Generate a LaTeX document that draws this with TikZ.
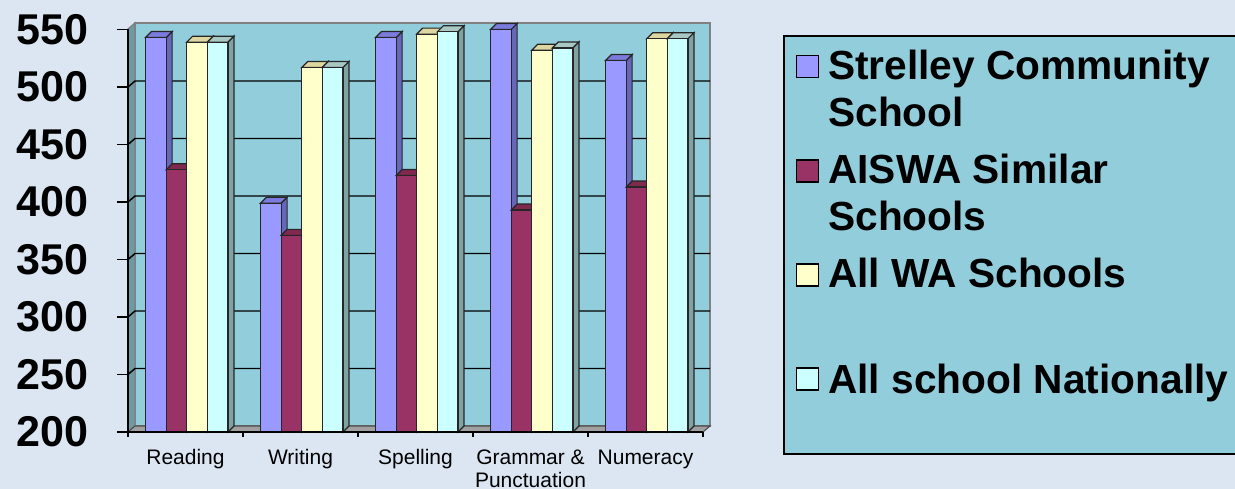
\documentclass[tikz,border=0pt]{standalone}
\usepackage{fontspec}
\setmainfont{Liberation Sans}
\definecolor{bg}{HTML}{DCE6F2}
\definecolor{wall}{HTML}{92CDDC}
\definecolor{sidewall}{HTML}{6E9AA4}
\definecolor{floorc}{HTML}{A0A0A0}
\definecolor{bluef}{HTML}{9999FF}
\definecolor{blues}{HTML}{6666BB}
\definecolor{bluet}{HTML}{7B7BDD}
\definecolor{marf}{HTML}{993366}
\definecolor{mars}{HTML}{6B2447}
\definecolor{mart}{HTML}{80294F}
\definecolor{yelf}{HTML}{FFFFCC}
\definecolor{yels}{HTML}{B8B890}
\definecolor{yelt}{HTML}{DDD6A0}
\definecolor{cyaf}{HTML}{CCFFFF}
\definecolor{cyas}{HTML}{7FA3A3}
\definecolor{cyat}{HTML}{A8C8C4}
\tikzset{
  barline/.style={draw=black!85, line width=0.9pt},
  gridl/.style={draw=black, line width=1.1pt},
  axisl/.style={draw=black, line width=1.1pt},
  ylab/.style={anchor=east, inner sep=0pt, font=\fontsize{32.3}{36}\selectfont\bfseries},
  catlab/.style={anchor=base, inner sep=0pt, font=\fontsize{15.75}{18}\selectfont},
  leglab/.style={anchor=base west, inner sep=0pt, font=\fontsize{30.5}{35}\selectfont\bfseries},
  legsq/.style={draw=black, line width=1.2pt, minimum size=16.5pt, inner sep=0pt},
}
\newcommand{\bw}{20.6}
\newcommand{\ddx}{6}
\newcommand{\ddy}{6}
\newcommand{\drawbar}[5]{%
  \pgfmathsetmacro{\yt}{432-1.15*(#2-200)}%
  \pgfmathsetmacro{\xl}{#1}%
  \pgfmathsetmacro{\xr}{#1+\bw}%
  \filldraw[barline, fill=#4] (\xr,432) -- (\xr,\yt) -- (\xr+\ddx,\yt-\ddy) -- (\xr+\ddx,432-\ddy) -- cycle;
  \filldraw[barline, fill=#5] (\xl,\yt) -- (\xr,\yt) -- (\xr+\ddx,\yt-\ddy) -- (\xl+\ddx,\yt-\ddy) -- cycle;
  \filldraw[barline, fill=#3] (\xl,432) rectangle (\xr,\yt);
}
\newcommand{\drawgroup}[5]{%
  \pgfmathsetmacro{\gx}{128+115*#1+17.5}%
  \drawbar{\gx}{#2}{bluef}{blues}{bluet}
  \pgfmathsetmacro{\gx}{128+115*#1+17.5+\bw}%
  \drawbar{\gx}{#3}{marf}{mars}{mart}
  \pgfmathsetmacro{\gx}{128+115*#1+17.5+2*\bw}%
  \drawbar{\gx}{#4}{yelf}{yels}{yelt}
  \pgfmathsetmacro{\gx}{128+115*#1+17.5+3*\bw}%
  \drawbar{\gx}{#5}{cyaf}{cyas}{cyat}
}
\begin{document}
\begin{tikzpicture}[x=0.75pt, y=-0.75pt]
\useasboundingbox (0,0) rectangle (1235,489);
\clip (0,0) rectangle (1235,489);
\fill[bg] (0,0) rectangle (1235,489);
% walls
\filldraw[fill=wall, draw=gray, line width=1pt] (135,23) -- (710,23) -- (710,426) -- (135,426) -- cycle;
\filldraw[fill=sidewall, draw=gray, line width=1pt] (128,432) -- (128,29) -- (135,23) -- (135,426) -- cycle;
\filldraw[fill=floorc, draw=black!70, line width=0.8pt] (128,432) -- (703,432) -- (710,426) -- (135,426) -- cycle;
% gridlines
\foreach \v in {250,300,...,500} {
  \pgfmathsetmacro{\yf}{432-1.15*(\v-200)}
  \draw[gridl] (128,\yf) -- (135,\yf-6) -- (710,\yf-6);
}
% bars
\drawgroup{0}{543}{428}{539}{539}
\drawgroup{1}{399}{371}{517}{517}
\drawgroup{2}{543}{423}{546}{548}
\drawgroup{3}{550}{393}{532}{534}
\drawgroup{4}{523}{413}{542}{542}
% axes
\draw[axisl] (128,29) -- (128,437);
\draw[axisl] (128,432) -- (703,432);
\foreach \k in {1,...,5} {
  \draw[axisl] (128+115*\k,432) -- (128+115*\k,437);
}
\foreach \v/\nm in {200/a,250/b,300/c,350/d,400/e,450/f,500/g,550/h} {
  \pgfmathsetmacro{\yf}{432-1.15*(\v-200)}
  \draw[axisl] (117,\yf) -- (128,\yf);
  \node[ylab] (y\nm) at (89,\yf) {\v};
}
% category labels
\node[catlab] (c1) at (185.5,464) {Reading};
\node[catlab] (c2) at (300.5,464) {Writing};
\node[catlab] (c3) at (415.5,464) {Spelling};
\node[catlab] (c4a) at (530.5,464) {Grammar \&};
\node[catlab] (c4b) at (530.5,487) {Punctuation};
\node[catlab] (c5) at (645.5,464) {Numeracy};
% legend
\filldraw[fill=wall, draw=black, line width=1pt] (784,36) rectangle (1245,454);
\node[legsq, fill=bluef] (s1) at (807.5,66.5) {};
\node[legsq, fill=marf] (s2) at (807.5,171) {};
\node[legsq, fill=yelf] (s3) at (807.5,275) {};
\node[legsq, fill=cyaf] (s4) at (807.5,379) {};
\node[leglab] (l1a) at (828,79) {Strelley Community};
\node[leglab] (l1b) at (828,126) {School};
\node[leglab] (l2a) at (828,183) {AISWA Similar};
\node[leglab] (l2b) at (828,230) {Schools};
\node[leglab] (l3) at (828,287) {All WA Schools};
\node[leglab] (l4) at (828,393) {All school Nationally};
\end{tikzpicture}
\end{document}
